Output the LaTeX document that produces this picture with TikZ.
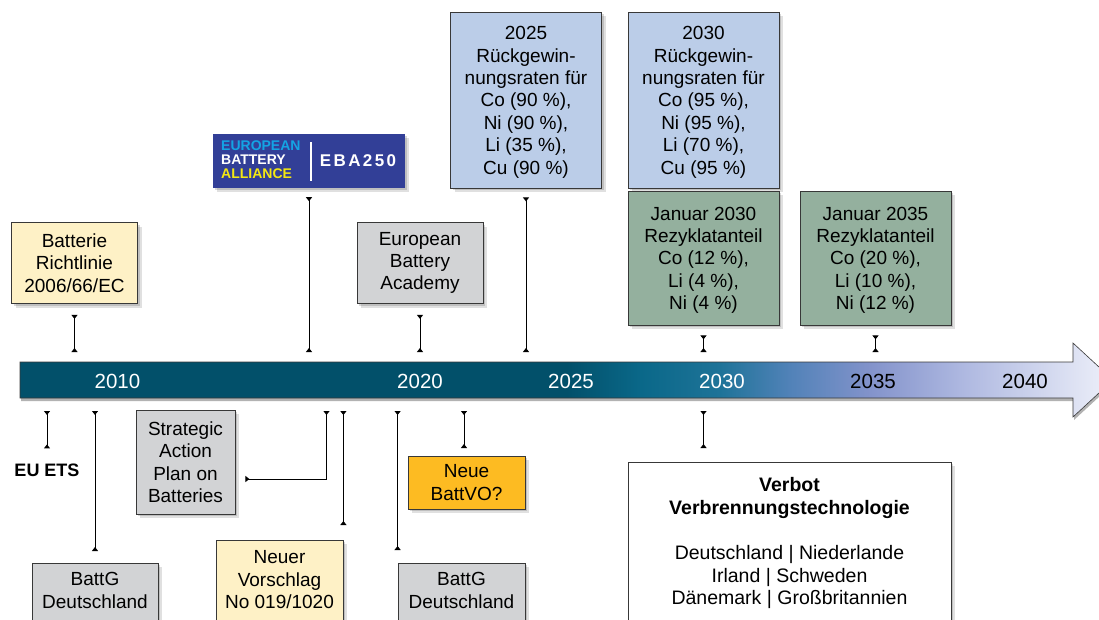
\documentclass[tikz,border=0pt]{standalone}
\usepackage{fontspec}
\setmainfont{Liberation Sans}
\usetikzlibrary{arrows.meta,shadows}
\definecolor{cream}{HTML}{FEF1C6}
\definecolor{greybox}{HTML}{D2D3D5}
\definecolor{bluebox}{HTML}{BBCDE8}
\definecolor{greenbox}{HTML}{94B09E}
\definecolor{orangebox}{HTML}{FDBB22}
\definecolor{ebablue}{HTML}{323F97}
\definecolor{ebacyan}{HTML}{14A4E4}
\definecolor{ebayellow}{HTML}{F4E812}
\definecolor{edge}{HTML}{383838}
\definecolor{tlA}{HTML}{02506A}
\definecolor{tlC}{HTML}{0A6889}
\definecolor{tlD}{HTML}{1E7398}
\definecolor{tlE}{HTML}{5182B8}
\definecolor{tlF}{HTML}{8393CB}
\definecolor{tlG}{HTML}{ADB7E0}
\definecolor{tlH}{HTML}{D8DDF1}
\definecolor{tlI}{HTML}{EEF0FA}
\pgfdeclarehorizontalshading{barshade}{100bp}{color(0bp)=(tlA); color(25bp)=(tlA); color(50bp)=(tlA); color(53.4bp)=(tlC); color(57bp)=(tlD); color(60.2bp)=(tlE); color(63.9bp)=(tlF); color(68bp)=(tlG); color(72.6bp)=(tlH); color(75bp)=(tlI); color(100bp)=(tlI)}
\newcommand{\firstup}{\rule{0pt}{17.8pt}}
\begin{document}
\begin{tikzpicture}[x=1pt,y=-1pt,
  softshadow/.style={drop shadow={shadow xshift=2pt,shadow yshift=-2pt,opacity=.15,fill=black},
                     drop shadow={shadow xshift=4pt,shadow yshift=-4pt,opacity=.12,fill=black}},
  box/.style={draw=edge, line width=0.8pt, align=center, inner sep=0pt,
              font=\fontsize{19}{22.4}\selectfont, softshadow},
  conn/.style={line width=1pt, {Triangle[reversed,width=6pt,length=4pt]}-{Triangle[reversed,width=6pt,length=4pt]}},
  yr/.style={font=\fontsize{20.5}{24}\selectfont, text=white, inner sep=0pt},
]
\useasboundingbox (0,0) rectangle (1099,619);
\clip (0,0) rectangle (1099,619);

% timeline bar
\shadedraw[shading=barshade, draw=edge, line width=0.6pt,
  drop shadow={shadow xshift=1pt,shadow yshift=-3pt,opacity=.3,fill=black}]
  (20,362) -- (1073,362) -- (1073,343) -- (1113,380) -- (1073,417) -- (1073,398) -- (20,398) -- cycle;
\coordinate (bartop) at (0,352);
\coordinate (barbot) at (0,411);

\node[yr] (y2010) at (117.5,381) {2010};
\node[yr] (y2020) at (420,381) {2020};
\node[yr] (y2025) at (571,381) {2025};
\node[yr] (y2030) at (722,381) {2030};
\node[yr, text=black] (y2035) at (873,381) {2035};
\node[yr, text=black] (y2040) at (1025,381) {2040};

% top boxes
\node[box, fill=cream, minimum width=126pt, minimum height=81pt] (batt) at (74.5,263) {Batterie\\Richtlinie\\2006/66/EC};
\node[fill=ebablue, minimum width=192pt, minimum height=54pt, inner sep=0pt, softshadow] (eba) at (309,161) {};
\node[anchor=west, align=left, inner sep=0pt, font=\fontsize{14}{14}\selectfont\bfseries] (ebal) at (221,159.5)
  {\textcolor{ebacyan}{EUROPEAN}\\\textcolor{white}{BATTERY}\\\textcolor{ebayellow}{ALLIANCE}};
\draw[white, line width=1.3pt] (311,142) -- (311,181);
\node[inner sep=0pt, text=white, font=\fontsize{17}{17}\selectfont\bfseries] (ebar) at (358,161)
  {E\kern2.4pt B\kern2.4pt A\kern2.4pt 2\kern2.4pt 5\kern2.4pt 0};
\node[box, fill=greybox, minimum width=126pt, minimum height=81pt] (acad) at (420,263) {European\\Battery\\Academy};
\node[box, fill=bluebox, minimum width=151pt, minimum height=176pt] (r25) at (526,100)
  {\firstup 2025\\Rückgewin-\\nungsraten für\\Co (90 \%),\\Ni (90 \%),\\Li (35 \%),\\Cu (90 \%)};
\node[box, fill=bluebox, minimum width=151pt, minimum height=176pt] (r30) at (703.5,100)
  {\firstup 2030\\Rückgewin-\\nungsraten für\\Co (95 \%),\\Ni (95 \%),\\Li (70 \%),\\Cu (95 \%)};
\node[box, fill=greenbox, minimum width=151pt, minimum height=134pt] (j30) at (703.5,258)
  {\firstup Januar 2030\\Rezyklatanteil\\Co (12 \%),\\Li (4 \%),\\Ni (4 \%)};
\node[box, fill=greenbox, minimum width=151pt, minimum height=134pt] (j35) at (875.5,258)
  {\firstup Januar 2035\\Rezyklatanteil\\Co (20 \%),\\Li (10 \%),\\Ni (12 \%)};

% bottom items
\node[inner sep=0pt, font=\fontsize{18}{22}\selectfont\bfseries] (ets) at (47,470) {EU ETS};
\node[box, fill=greybox, minimum width=99pt, minimum height=104pt] (strat) at (185.5,462)
  {Strategic\\Action\\Plan on\\Batteries};
\node[box, fill=orangebox, minimum width=117pt, minimum height=53pt] (bvo) at (466.5,482.5) {Neue\\BattVO?};
\node[box, fill=greybox, anchor=north, minimum width=126pt, inner ysep=9.2pt] (bgl) at (95,563)
  {BattG\\Deutschland\\\mbox{}\\\mbox{}};
\node[box, fill=cream, anchor=north, minimum width=127pt, inner ysep=10.2pt] (nv) at (279.5,540)
  {Neuer\\Vorschlag\\No 019/1020\\\mbox{}\\\mbox{}};
\node[box, fill=greybox, anchor=north, minimum width=127pt, inner ysep=9.2pt] (bgr) at (461.5,563)
  {BattG\\Deutschland\\\mbox{}\\\mbox{}};
\node[box, fill=white, anchor=north, minimum width=323pt, inner ysep=15.2pt, font=\fontsize{19.5}{22.6}\selectfont] (verb) at (789.5,462)
  {\textbf{Verbot}\\\textbf{Verbrennungstechnologie}\\\mbox{}\\Deutschland | Niederlande\\Irland | Schweden\\Dänemark | Großbritannien\\\mbox{}\\\mbox{}};

% connectors above
\draw[conn, shorten <=11pt] (batt.south) -- (batt.south |- bartop);
\draw[conn, shorten <=9pt] (eba.south) -- (eba.south |- bartop);
\draw[conn, shorten <=11pt] (acad.south) -- (acad.south |- bartop);
\draw[conn, shorten <=9pt] (r25.south) -- (r25.south |- bartop);
\draw[conn, shorten <=10pt] (j30.south) -- (j30.south |- bartop);
\draw[conn, shorten <=10pt] (j35.south) -- (j35.south |- bartop);

% connectors below
\draw[conn, shorten >=15pt] (barbot -| ets.north) -- (ets.north);
\draw[conn, shorten >=12pt] (barbot -| bgl.north) -- (bgl.north);
\coordinate (sturn) at (326.5,479);
\draw[conn, shorten >=10pt] (barbot -| sturn) -- (sturn) -- (strat.east |- sturn);
\draw[conn, shorten >=15pt] (barbot -| nv.north east) -- (nv.north east);
\draw[conn, shorten >=13pt] (barbot -| bgr.north west) -- (bgr.north west);
\coordinate (bvotop) at (464,456);
\draw[conn, shorten >=8pt] (barbot -| bvotop) -- (bvotop);
\draw[conn, shorten >=14pt] (barbot -| j30.south) -- (j30.south |- verb.north);
\end{tikzpicture}
\end{document}
